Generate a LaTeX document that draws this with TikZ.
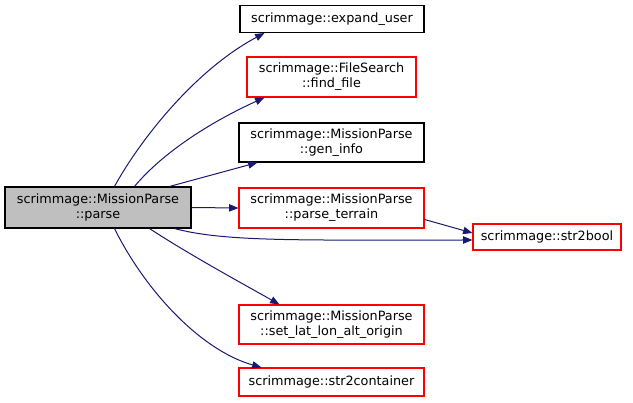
\documentclass[tikz,border=0pt]{standalone}
\usepackage{fontspec}
\setmainfont{DejaVu Sans}
\usetikzlibrary{arrows.meta,calc}
\definecolor{edgeblue}{HTML}{191970}
\definecolor{maingrey}{HTML}{BFBFBF}
\begin{document}
\begin{tikzpicture}[x=0.75pt,y=-0.75pt,
  box/.style={draw=black,fill=white,line width=0.8pt,rectangle,inner sep=0pt,align=center,
    font=\fontsize{9.6}{11.2}\selectfont},
  redbox/.style={box,draw=red},
  mainbox/.style={box,fill=maingrey},
  edge/.style={draw=edgeblue,line width=0.75pt,-{Triangle[length=7pt,width=5.5pt]}}]
\useasboundingbox (0,0) rectangle (633,403);
\node[mainbox,minimum width=139.5pt,minimum height=30.75pt] (main) at (98,207.5) {scrimmage::MissionParse\\::parse};
\node[box,minimum width=138pt,minimum height=20.25pt] (expand) at (332,19) {scrimmage::expand\_user};
\node[redbox,minimum width=126.75pt,minimum height=30pt] (find) at (331.5,77) {scrimmage::FileSearch\\::find\_file};
\node[box,minimum width=138.75pt,minimum height=29.25pt] (gen) at (331.5,142.5) {scrimmage::MissionParse\\::gen\_info};
\node[redbox,minimum width=138.75pt,minimum height=30pt] (terrain) at (331.5,208) {scrimmage::MissionParse\\::parse\_terrain};
\node[redbox,minimum width=111pt,minimum height=19.5pt] (bool) at (547,237) {scrimmage::str2bool};
\node[redbox,minimum width=138.75pt,minimum height=29.25pt] (latlon) at (331.5,324.5) {scrimmage::MissionParse\\::set\_lat\_lon\_alt\_origin};
\node[redbox,minimum width=138.75pt,minimum height=21pt] (cont) at (331.5,382) {scrimmage::str2container};

\draw[edge] ($(main.north west)+(110,0)$) .. controls (140,140) and (195,70) .. ($(expand.south west)+(25,0)$);
\draw[edge] ($(main.north west)+(130,0)$) .. controls (165,150) and (215,120) .. ($(find.south west)+(18,0)$);
\draw[edge] ($(main.north west)+(165,0)$) -- ($(gen.south west)+(19,0)$);
\draw[edge] (main.east) -- (terrain.west);
\draw[edge] ($(main.south west)+(170,0)$) .. controls (225,242) and (300,240) .. ($(bool.west)+(0,3)$);
\draw[edge] ($(terrain.north east)+(0,32)$) -- ($(bool.west)+(0,-4)$);
\draw[edge] ($(main.south west)+(145,0)$) .. controls (190,255) and (245,285) .. ($(latlon.north west)+(41,0)$);
\draw[edge] ($(main.south west)+(110,0)$) .. controls (145,290) and (200,350) .. ($(cont.north west)+(23,0)$);
\end{tikzpicture}
\end{document}
